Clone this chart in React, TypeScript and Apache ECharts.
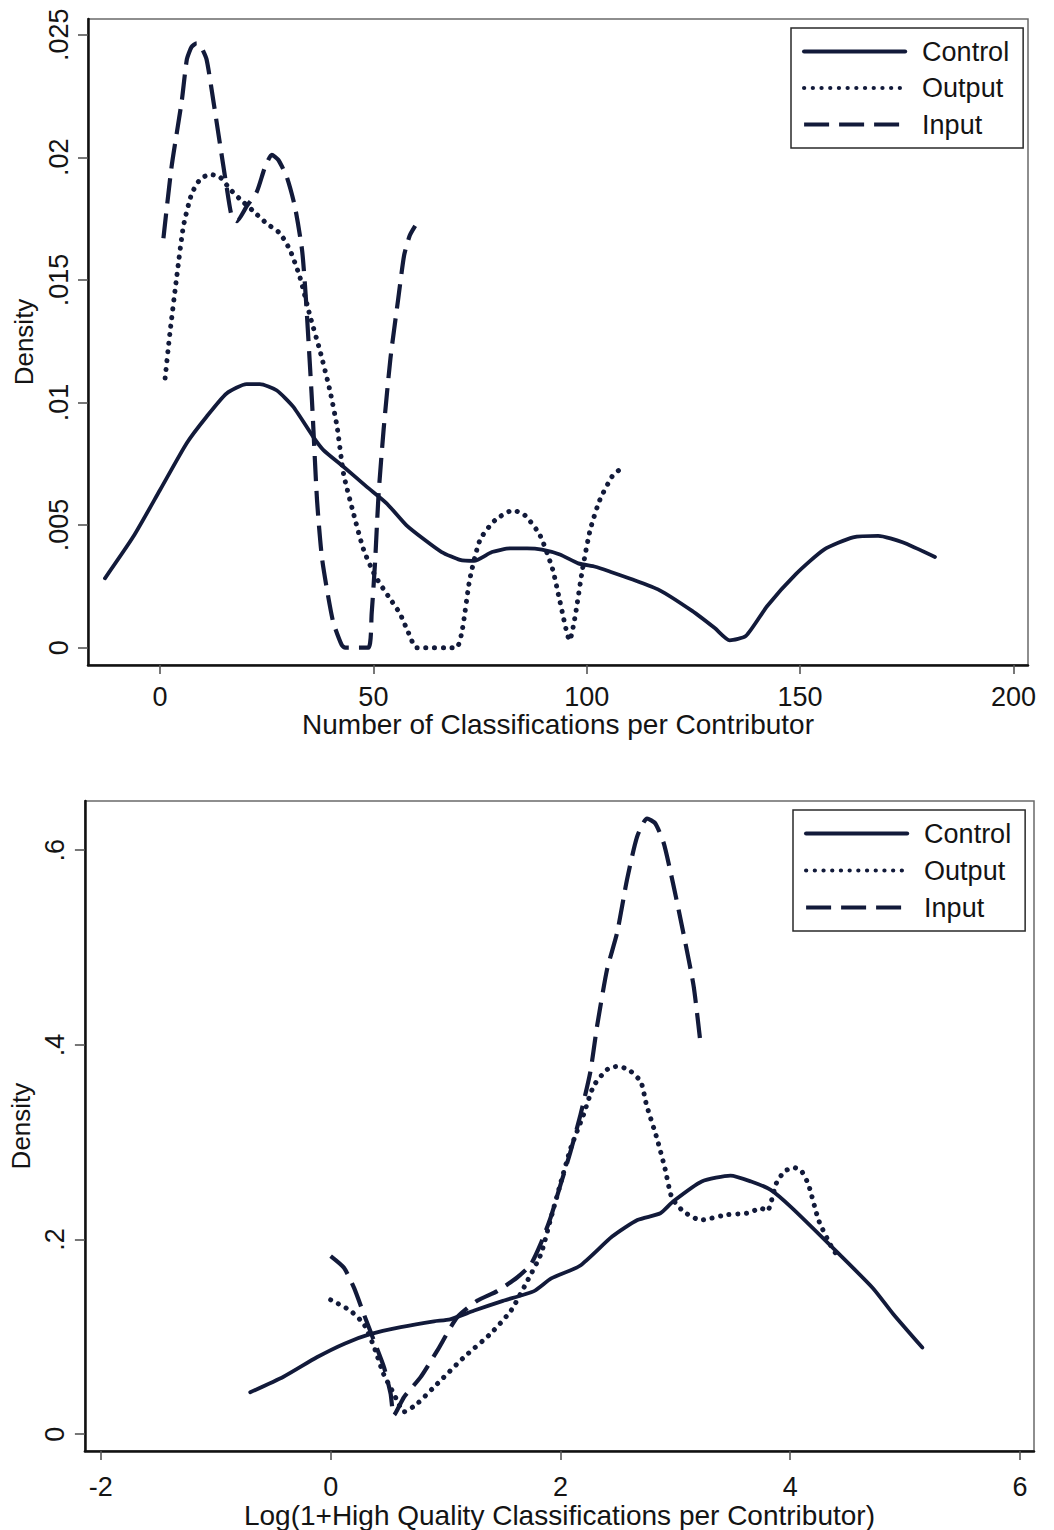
import React, { useEffect, useRef } from "react";
import * as echarts from "echarts";

// ---------- Data ----------
// Top panel: Number of Classifications per Contributor
const topControlX = [-12.9, -6.25, 0, 6.25, 10.9, 15.6, 20.3, 23.4, 27.3, 31.2, 35.9, 38.3, 43, 48.4, 53.1, 57.7, 62, 66, 70.3, 73.6, 77.8, 82, 86, 89.5, 93.7, 98, 102, 105.5, 110.4, 117, 124.7, 130, 133.5, 137.3, 142.3, 149, 155.6, 162.4, 168.3, 174, 181.6];
const topControlY = [0.00283, 0.00453, 0.00643, 0.00834, 0.00942, 0.01037, 0.01075, 0.01075, 0.0105, 0.00983, 0.0086, 0.00806, 0.00738, 0.00657, 0.00589, 0.005, 0.0044, 0.0039, 0.00358, 0.00354, 0.0039, 0.00405, 0.00405, 0.004, 0.0038, 0.00344, 0.0033, 0.0031, 0.0028, 0.00235, 0.0015, 0.0008, 0.0003, 0.00048, 0.0017, 0.003, 0.004, 0.0045, 0.00456, 0.0043, 0.0037];

const topOutputX = [1.2, 2.3, 3.9, 5.5, 7.4, 9.4, 11.7, 14, 16.4, 18.7, 21.9, 25, 28.1, 30.5, 32.8, 35.2, 37.5, 39.8, 41.5, 43, 45.3, 47.7, 50.5, 53.5, 56.2, 58, 60.2, 69.4, 70.8, 72.6, 75, 78.5, 82.7, 85.5, 89, 92, 93.7, 96, 97.3, 99, 100.8, 103, 106, 108];
const topOutputY = [0.011, 0.0128, 0.0151, 0.0172, 0.0185, 0.0191, 0.0193, 0.0192, 0.0187, 0.0183, 0.0178, 0.0173, 0.0169, 0.0162, 0.0151, 0.0135, 0.0121, 0.0105, 0.009, 0.0071, 0.0055, 0.004, 0.0029, 0.0021, 0.0014, 0.0007, 0, 0, 0.0007, 0.0028, 0.0044, 0.0052, 0.0056, 0.0054, 0.0046, 0.0032, 0.0019, 0.0003, 0.0013, 0.0032, 0.0048, 0.006, 0.007, 0.0073];

const topInputX = [0.8, 2.7, 5.1, 6.3, 7.4, 8.6, 9.4, 10.9, 12.5, 14, 15.6, 16.8, 18, 20.3, 22.7, 24.6, 26.2, 27.7, 29.7, 31.6, 33.3, 34.2, 35.6, 36.8, 38, 40.5, 42.6, 43.4, 48.8, 49.6, 50.4, 51.2, 52.4, 54, 55.8, 57.2, 58.5, 59.8];
const topInputY = [0.0167, 0.0196, 0.0223, 0.024, 0.0245, 0.02465, 0.02458, 0.024, 0.0223, 0.0206, 0.0188, 0.0176, 0.0174, 0.018, 0.0186, 0.0196, 0.0201, 0.0199, 0.0192, 0.018, 0.0162, 0.0142, 0.0101, 0.006, 0.0036, 0.0011, 0.0001, 0, 0, 0.0014, 0.0035, 0.0062, 0.0089, 0.0118, 0.0142, 0.016, 0.0168, 0.0172];

const topXTicks = [0, 50, 100, 150, 200];
const topYTicks = [0, 0.005, 0.01, 0.015, 0.02, 0.025];

// Bottom panel: Log(1+High Quality Classifications per Contributor)
const botControlX = [-0.7, -0.41, -0.12, 0.12, 0.35, 0.61, 0.9, 1.04, 1.25, 1.5, 1.77, 1.92, 2.17, 2.45, 2.67, 2.87, 2.98, 3.23, 3.48, 3.66, 3.83, 4.01, 4.4, 4.72, 4.9, 5.15];
const botControlY = [0.043, 0.059, 0.079, 0.093, 0.103, 0.11, 0.116, 0.118, 0.127, 0.137, 0.147, 0.16, 0.173, 0.203, 0.22, 0.227, 0.239, 0.2596, 0.2657, 0.2596, 0.251, 0.233, 0.188, 0.15, 0.123, 0.089];

const botOutputX = [0, 0.17, 0.29, 0.38, 0.46, 0.55, 0.64, 0.75, 0.93, 1.16, 1.39, 1.57, 1.71, 1.83, 1.91, 1.99, 2.09, 2.2, 2.29, 2.41, 2.5, 2.6, 2.7, 2.75, 2.84, 2.91, 2.97, 3.07, 3.22, 3.45, 3.62, 3.75, 3.8, 3.88, 3.95, 4.03, 4.1, 4.16, 4.25, 4.38, 4.42];
const botOutputY = [0.138, 0.127, 0.113, 0.089, 0.062, 0.0415, 0.023, 0.031, 0.052, 0.079, 0.103, 0.127, 0.157, 0.185, 0.219, 0.253, 0.294, 0.328, 0.358, 0.375, 0.378, 0.374, 0.362, 0.338, 0.304, 0.273, 0.243, 0.229, 0.22, 0.2255, 0.227, 0.232, 0.229, 0.258, 0.27, 0.274, 0.27, 0.256, 0.219, 0.188, 0.184];

const botInputX = [0, 0.116, 0.203, 0.29, 0.377, 0.464, 0.522, 0.55, 0.638, 0.783, 0.928, 1.1, 1.275, 1.45, 1.623, 1.74, 1.826, 1.913, 2.0, 2.087, 2.174, 2.26, 2.32, 2.406, 2.493, 2.58, 2.667, 2.754, 2.826, 2.9, 2.986, 3.07, 3.16, 3.217];
const botInputY = [0.183, 0.171, 0.1505, 0.123, 0.096, 0.0688, 0.0415, 0.0194, 0.038, 0.0586, 0.0858, 0.12, 0.137, 0.147, 0.161, 0.174, 0.195, 0.222, 0.256, 0.29, 0.328, 0.372, 0.42, 0.4776, 0.515, 0.57, 0.6138, 0.6326, 0.6275, 0.607, 0.5627, 0.515, 0.46, 0.404];

const botXTicks = [-2, 0, 2, 4, 6];
const botYTicks = [0, 0.2, 0.4, 0.6];

const seriesNames = ["Control", "Output", "Input"];

// ---------- Styling ----------
const FONT = '"Liberation Sans", Arial, Helvetica, sans-serif';
const TEXT = "#141414";
const LINE = "#121a3a";

const zip = (xs: number[], ys: number[]) => xs.map((x, i) => [x, ys[i]]);
const fmt = (v: number) => {
  if (v === 0) return "0";
  let s = String(+v.toFixed(4));
  s = s.replace(/^0\./, ".").replace(/^-0\./, "-.");
  return s;
};

const lineStyles: Record<string, any> = {
  Control: { color: LINE, width: 3.8, type: "solid", cap: "round", join: "round" },
  Output: { color: LINE, width: 5, type: [0.1, 8.6], cap: "round", join: "round" },
  Input: { color: LINE, width: 4.2, type: [25, 10], cap: "butt", join: "round" },
};

function makeSeries(name: string, data: number[][], idx: number) {
  return {
    type: "line",
    name,
    data,
    xAxisIndex: idx,
    yAxisIndex: idx,
    symbol: "none",
    showSymbol: false,
    smooth: 0.2,
    lineStyle: lineStyles[name],
    itemStyle: { color: LINE },
    emphasis: { disabled: true },
    z: 3,
  };
}

function xAxisCfg(gridIndex: number, min: number, max: number, ticks: number[], name: string, labelMargin: number, nameGap: number) {
  return {
    type: "value",
    gridIndex,
    min,
    max,
    name,
    nameLocation: "middle",
    nameGap,
    nameTextStyle: { fontFamily: FONT, fontSize: 28, color: TEXT },
    axisLine: { show: true, onZero: false, lineStyle: { color: "#111", width: 2.5 } },
    axisTick: { show: true, length: 9, customValues: ticks, lineStyle: { color: "#555", width: 1.6 } },
    axisLabel: { customValues: ticks, formatter: fmt, fontFamily: FONT, fontSize: 27, color: TEXT, margin: labelMargin },
    splitLine: { show: false },
  };
}

function yAxisCfg(gridIndex: number, min: number, max: number, ticks: number[], labelMargin: number, nameGap: number) {
  return {
    type: "value",
    gridIndex,
    min,
    max,
    name: "Density",
    nameLocation: "middle",
    nameRotate: 90,
    nameGap,
    nameTextStyle: { fontFamily: FONT, fontSize: 26, color: TEXT },
    axisLine: { show: true, onZero: false, lineStyle: { color: "#111", width: 2.5 } },
    axisTick: { show: true, length: 10, customValues: ticks, lineStyle: { color: "#555", width: 1.6 } },
    axisLabel: { customValues: ticks, formatter: fmt, rotate: 90, fontFamily: FONT, fontSize: 27, color: TEXT, margin: labelMargin },
    splitLine: { show: false },
  };
}

function legendCfg(left: number, top: number, gap: number) {
  return {
    show: true,
    left,
    top,
    orient: "vertical",
    data: seriesNames,
    itemWidth: 101,
    itemHeight: 14,
    itemGap: gap,
    padding: [10, 14, 10, 11],
    borderColor: "#2a2a2a",
    borderWidth: 1.5,
    backgroundColor: "#fff",
    selectedMode: false,
    itemStyle: { opacity: 0, borderWidth: 0 },
    lineStyle: { width: 4.2 },
    formatter: (n: string) => `{t|${n}}`,
    textStyle: {
      fontFamily: FONT,
      fontSize: 27,
      color: TEXT,
      rich: { t: { fontFamily: FONT, fontSize: 27, color: TEXT, padding: [0, 0, 0, 12], lineHeight: 28 } },
    },
  };
}

export default function App() {
  const ref = useRef<HTMLDivElement | null>(null);

  useEffect(() => {
    if (!ref.current) return;
    const chart = echarts.init(ref.current, undefined, { renderer: "svg" });

    const option: any = {
      animation: false,
      backgroundColor: "#ffffff",
      grid: [
        { left: 88, top: 19, width: 940, height: 646, show: true, borderColor: "#6a6a6a", borderWidth: 1.5, backgroundColor: "transparent" },
        { left: 84, top: 801, width: 950, height: 653, show: true, borderColor: "#6a6a6a", borderWidth: 1.5, backgroundColor: "transparent" },
      ],
      xAxis: [
        xAxisCfg(0, -16.875, 203.4, topXTicks, "Number of Classifications per Contributor", 18, 44),
        xAxisCfg(1, -2.139, 6.122, botXTicks, "Log(1+High Quality Classifications per Contributor)", 22, 48),
      ],
      yAxis: [
        yAxisCfg(0, -0.000706, 0.02564, topYTicks, 16, 42),
        yAxisCfg(1, -0.0174, 0.6506, botYTicks, 16, 47),
      ],
      legend: [legendCfg(791, 28, 9.5), legendCfg(793, 810, 10)],
      series: [
        makeSeries("Control", zip(topControlX, topControlY), 0),
        makeSeries("Output", zip(topOutputX, topOutputY), 0),
        makeSeries("Input", zip(topInputX, topInputY), 0),
        makeSeries("Control", zip(botControlX, botControlY), 1),
        makeSeries("Output", zip(botOutputX, botOutputY), 1),
        makeSeries("Input", zip(botInputX, botInputY), 1),
      ],
    };

    chart.setOption(option);
    return () => chart.dispose();
  }, []);

  return (
    <div
      ref={ref}
      style={{ position: "absolute", left: 0, top: 0, width: 1054, height: 1530, background: "#fff" }}
    />
  );
}
